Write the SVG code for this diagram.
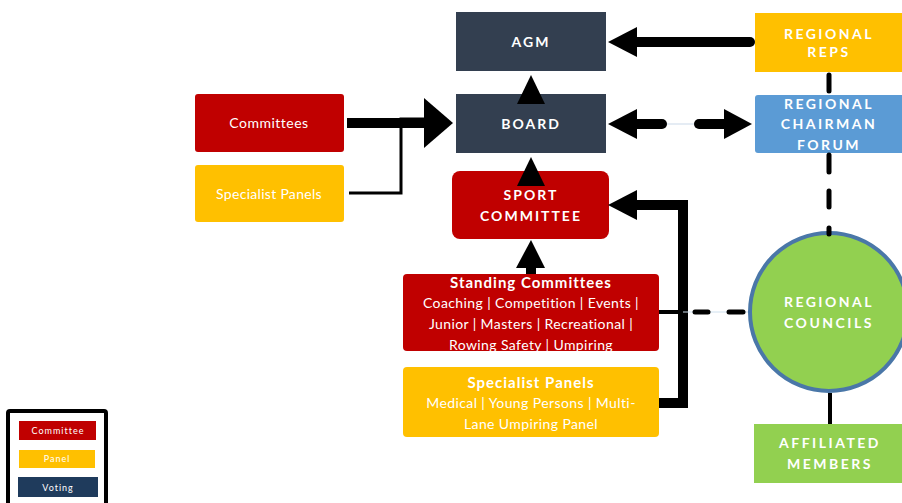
<svg xmlns="http://www.w3.org/2000/svg" width="902" height="503" viewBox="0 0 902 503">
<defs>
<style>
.h{font-family:Lato,"Open Sans",sans-serif;font-weight:700;fill:#fff;font-size:14px;letter-spacing:2px;text-anchor:middle}
.r{font-family:Lato,"Open Sans",sans-serif;fill:#fff;font-size:14px;text-anchor:middle}
.s{letter-spacing:0.4px}
.b{font-family:Lato,"Open Sans",sans-serif;font-weight:700;fill:#fff;font-size:15px;text-anchor:middle;letter-spacing:1px}
.l{font-family:Lato,"Open Sans",sans-serif;fill:#fff;font-size:9px;text-anchor:middle;letter-spacing:1px}
.red{fill:#c00000}.yel{fill:#ffc000}.dark{fill:#333f50}
.thick{stroke:#000;stroke-width:10;fill:none}
.dash{stroke:#000;stroke-width:5;fill:none;stroke-linecap:round}
</style>
</defs>
<rect width="902" height="503" fill="#fff"/>
<g id="agm"><rect x="456" y="12" width="150" height="59" class="dark"/><text x="531" y="47" class="h">AGM</text></g>
<g id="board"><rect x="456" y="94" width="150" height="59" class="dark"/><text x="531" y="129" class="h">BOARD</text></g>
<g id="committees"><rect x="195" y="94" width="149" height="58" rx="3" class="red"/><text x="269" y="128" class="r" style="letter-spacing:0.5px">Committees</text></g>
<g id="specialist-panels-left"><rect x="195" y="165" width="149" height="57" rx="3" class="yel"/><text x="269" y="199" class="r" style="letter-spacing:0.3px">Specialist Panels</text></g>
<g id="sport-committee"><rect x="452" y="171" width="157" height="68" rx="8" class="red"/><text x="531" y="200" class="h">SPORT</text><text x="531" y="221" class="h">COMMITTEE</text></g>
<g id="standing-committees"><rect x="403" y="274" width="256" height="77" rx="4" class="red"/>
<text x="531" y="288" class="b">Standing Committees</text>
<text x="531" y="308" class="r s">Coaching | Competition | Events |</text>
<text x="531" y="329" class="r s">Junior | Masters | Recreational |</text>
<text x="531" y="350" class="r s">Rowing Safety | Umpiring</text></g>
<g id="specialist-panels"><rect x="403" y="367" width="256" height="70" rx="4" class="yel"/>
<text x="531" y="388" class="b">Specialist Panels</text>
<text x="531" y="408" class="r s">Medical | Young Persons | Multi-</text>
<text x="531" y="429" class="r s">Lane Umpiring Panel</text></g>
<g id="regional-reps"><rect x="755" y="13" width="147" height="59" class="yel"/><text x="829" y="39" class="h" style="letter-spacing:2.5px">REGIONAL</text><text x="829" y="57" class="h" style="letter-spacing:2.5px">REPS</text></g>
<g id="regional-chairman-forum"><rect x="755" y="95" width="150" height="58" rx="3" fill="#5b9bd5"/><text x="829" y="109" class="h" style="letter-spacing:2.5px">REGIONAL</text><text x="829" y="129" class="h" style="letter-spacing:2.5px">CHAIRMAN</text><text x="829" y="150" class="h" style="letter-spacing:2.5px">FORUM</text></g>
<g id="regional-councils"><circle cx="829" cy="312" r="79" fill="#92d050" stroke="#4a77a8" stroke-width="4"/><text x="829" y="307" class="h" style="letter-spacing:2.5px">REGIONAL</text><text x="829" y="328" class="h" style="letter-spacing:2.5px">COUNCILS</text></g>
<g id="affiliated-members"><rect x="754" y="424" width="150" height="59" fill="#92d050"/><text x="830" y="448" class="h" style="letter-spacing:2.5px">AFFILIATED</text><text x="830" y="469" class="h" style="letter-spacing:2.5px">MEMBERS</text></g>
<g id="connectors">
<line x1="347" y1="123" x2="426" y2="123" class="thick"/>
<polygon points="424,98 453,123 424,148"/>
<polyline points="349,193 401,193 401,119 426,119" stroke="#000" stroke-width="3" fill="none"/>
<polygon points="531,75 545,104 517,104"/>
<polygon points="531,157 545,186 517,186"/>
<polygon points="531,240 545,268 516,268"/>
<rect x="526" y="266" width="10" height="8"/>
<polyline points="659,403 683,403 683,205 635,205" class="thick"/>
<polygon points="608,205 637,190 637,220"/>
<line x1="659" y1="312" x2="683" y2="312" stroke="#000" stroke-width="4"/>
<line x1="683" y1="312" x2="748" y2="312" stroke="#cfe0ee" stroke-width="1"/>
<line x1="695" y1="312" x2="708" y2="312" class="dash"/>
<line x1="729" y1="312" x2="743" y2="312" class="dash"/>
<line x1="635" y1="42" x2="750" y2="42" class="thick" stroke-linecap="round"/>
<polygon points="608,42 637,27 637,57"/>
<line x1="664" y1="124" x2="696" y2="124" stroke="#dde6f0" stroke-width="1.5"/>
<line x1="635" y1="124" x2="662" y2="124" class="thick" stroke-linecap="round"/>
<polygon points="608,124 637,109 637,139"/>
<line x1="699" y1="124" x2="726" y2="124" class="thick" stroke-linecap="round"/>
<polygon points="752,124 724,109 724,139"/>
<line x1="829" y1="75" x2="829" y2="91" class="dash"/>
<line x1="829" y1="155" x2="829" y2="172" class="dash"/>
<line x1="829" y1="191" x2="829" y2="207" class="dash"/>
<line x1="829" y1="228" x2="829" y2="234" class="dash"/>
<line x1="830" y1="393" x2="830" y2="424" stroke="#000" stroke-width="4"/>
</g>
<g id="legend">
<rect x="8" y="411" width="98" height="94" fill="#fff" stroke="#000" stroke-width="4" rx="2"/>
<rect x="19" y="421" width="77" height="19" class="red"/><text x="58" y="434" class="l">Committee</text>
<rect x="19" y="450" width="76" height="18" class="yel"/><text x="57" y="462" class="l">Panel</text>
<rect x="18" y="477" width="80" height="20" fill="#1f3b5c"/><text x="58" y="491" class="l">Voting</text>
</g>
</svg>
